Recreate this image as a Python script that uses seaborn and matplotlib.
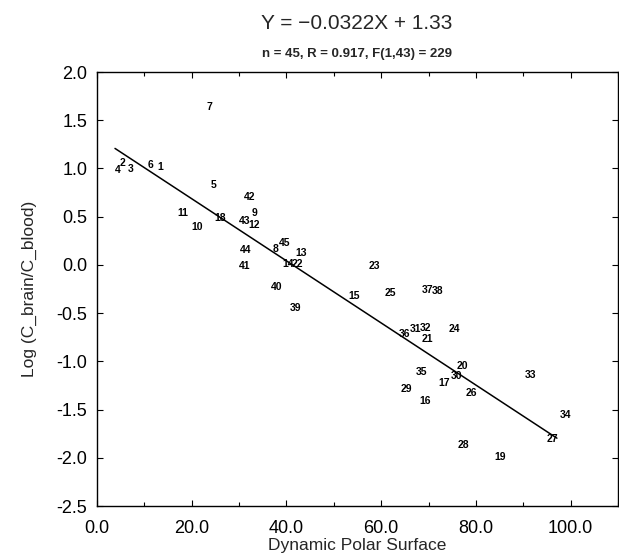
import numpy as np
import pandas as pd
import matplotlib
matplotlib.use("Agg")
import matplotlib.pyplot as plt
from matplotlib.ticker import MultipleLocator, FormatStrFormatter
import seaborn as sns

# compound numbers and their coordinates
compound = list(range(1, 46))
polar_surface = [13.4, 5.4, 7.0, 4.3, 24.7, 11.3, 23.8, 37.6, 33.3, 21.2,
                 18.1, 33.1, 43.0, 40.4, 54.2, 69.2, 73.4, 26.1, 85.2, 77.2,
                 69.7, 42.3, 58.6, 75.5, 62.0, 79.1, 96.1, 77.3, 65.3, 75.9,
                 67.3, 69.3, 91.6, 99.0, 68.5, 65.0, 69.9, 72.0, 41.9, 38.0,
                 31.2, 32.3, 31.2, 31.4, 39.7]
log_ratio = [1.01, 1.06, 0.99, 0.98, 0.83, 1.04, 1.64, 0.16, 0.54, 0.39,
             0.54, 0.41, 0.12, 0.01, -0.32, -1.41, -1.22, 0.49, -1.99, -1.05,
             -0.77, 0.01, -0.01, -0.66, -0.29, -1.33, -1.81, -1.87, -1.29, -1.15,
             -0.66, -0.65, -1.14, -1.56, -1.11, -0.72, -0.26, -0.27, -0.45, -0.23,
             -0.01, 0.70, 0.45, 0.15, 0.23]

# regression line as printed in the title
slope = -0.0322
intercept = 1.33
fit_range = [3.8, 97.1]

df = pd.DataFrame({'id': compound, 'x': polar_surface, 'y': log_ratio})
fit_df = pd.DataFrame({'x': fit_range})
fit_df['y'] = slope * fit_df['x'] + intercept

sns.set_theme(style='ticks')
plt.rcParams['font.family'] = ['Liberation Sans', 'DejaVu Sans']

fig = plt.figure(figsize=(6.19, 5.56), dpi=100)
ax = fig.add_axes([0.1567, 0.0899, 0.8417, 0.7806])

sns.lineplot(data=fit_df, x='x', y='y', color='black', linewidth=1.1, ax=ax)

for _, row in df.iterrows():
    ax.text(row['x'], row['y'], str(int(row['id'])), ha='center', va='center',
            fontsize=7.5, fontweight='bold', color='black')

ax.set_xlim(0, 110)
ax.set_ylim(-2.5, 2.0)
ax.xaxis.set_major_locator(MultipleLocator(20))
ax.xaxis.set_minor_locator(MultipleLocator(10))
ax.yaxis.set_major_locator(MultipleLocator(0.5))
ax.xaxis.set_major_formatter(FormatStrFormatter('%.1f'))
ax.yaxis.set_major_formatter(FormatStrFormatter('%.1f'))
ax.tick_params(which='both', direction='in', top=True, right=True,
               length=4, width=0.8, colors='black', labelsize=13)
ax.tick_params(which='minor', length=3)
ax.tick_params(axis='x', pad=10)
ax.tick_params(axis='y', pad=7)

for side in ['bottom', 'top', 'left', 'right']:
    ax.spines[side].set_color('black')
    ax.spines[side].set_linewidth(1)

ax.set_xlabel('Dynamic Polar Surface', fontsize=12.5, labelpad=1)
ax.set_ylabel('Log (C_brain/C_blood)', fontsize=12.5, labelpad=14)

fig.text(0.577, 0.958, 'Y = \u22120.0322X + 1.33', ha='center', va='center', fontsize=15)
fig.text(0.577, 0.903, 'n = 45, R = 0.917, F(1,43) = 229', ha='center', va='center',
         fontsize=9.5, fontweight='bold')

fig.savefig('out.png', dpi=100)
